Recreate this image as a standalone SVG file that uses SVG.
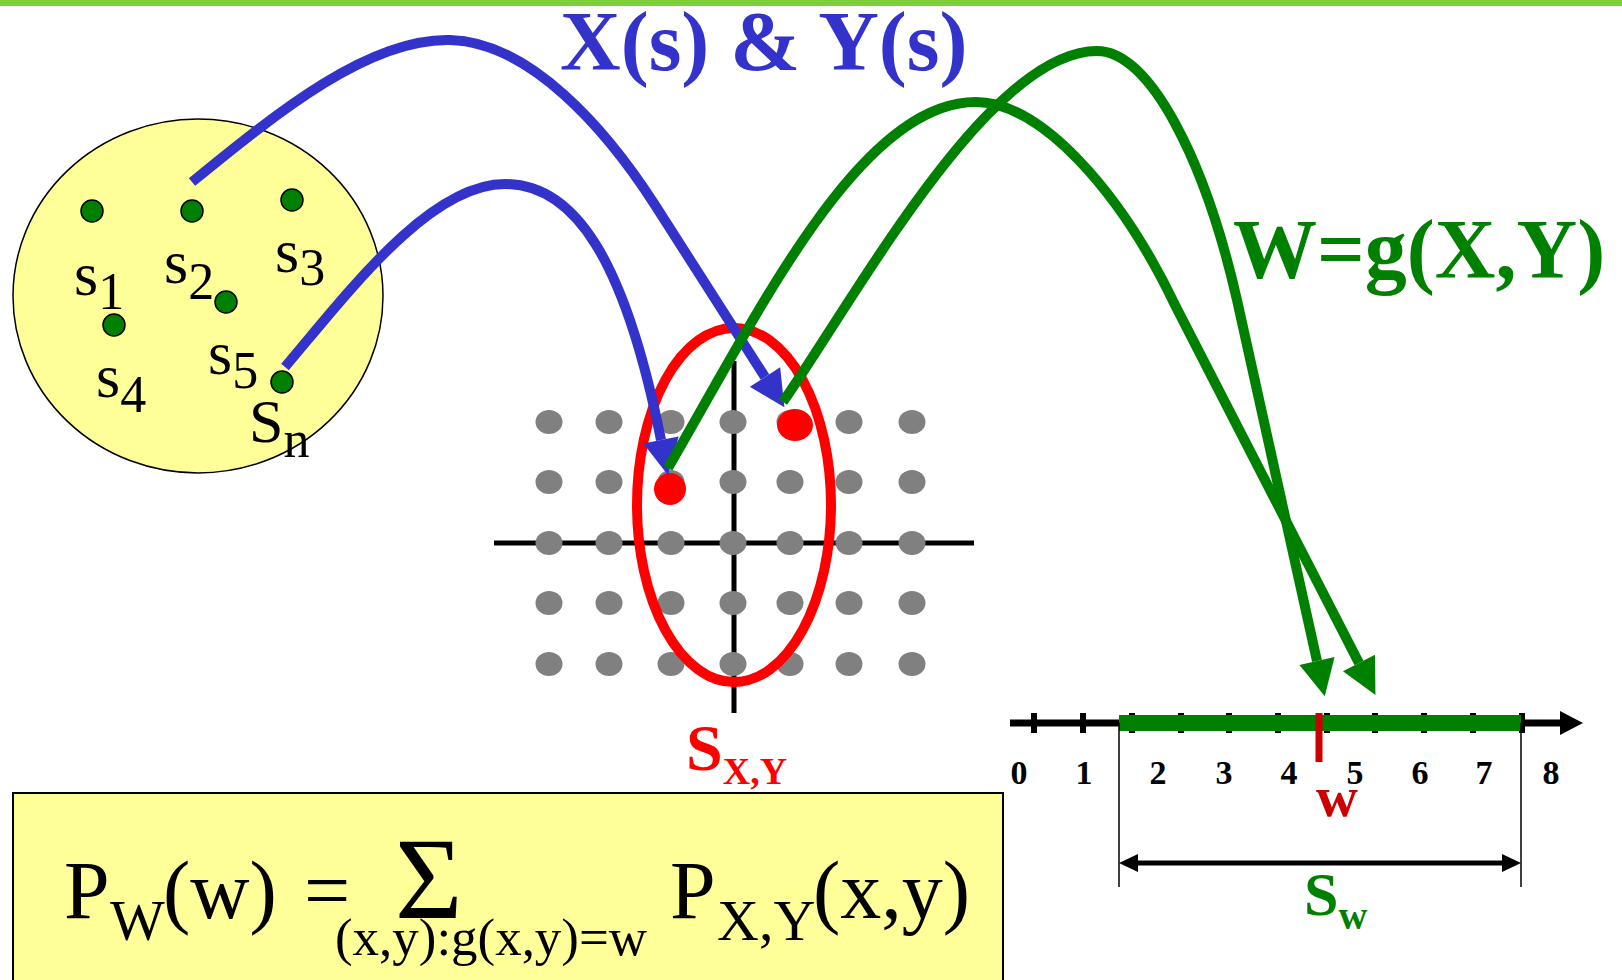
<svg xmlns="http://www.w3.org/2000/svg" width="1622" height="980" viewBox="0 0 1622 980">
<defs>
<style>
text{font-family:"Liberation Serif","Times New Roman",serif}
.b{font-weight:bold}
.lbl{font-size:62px;fill:#000}
.sub{font-size:52px}
.gd{fill:#008000;stroke:#000;stroke-width:1.5}
.gray{fill:#808080}
.blue{fill:none;stroke:#3333cc;stroke-width:10}
.green{fill:none;stroke:#008000;stroke-width:10}
.num{font-size:34px;font-weight:bold;text-anchor:middle;fill:#000}
.tick{fill:#000}
.thin{stroke:#000;stroke-width:1.5}
</style>
<marker id="ab" markerUnits="userSpaceOnUse" markerWidth="40" markerHeight="40" refX="0" refY="18" orient="auto" overflow="visible"><path d="M0,0 L36,18 L0,36 z" fill="#3333cc"/></marker>
<marker id="ag" markerUnits="userSpaceOnUse" markerWidth="40" markerHeight="40" refX="0" refY="18" orient="auto" overflow="visible"><path d="M0,0 L36,18 L0,36 z" fill="#008000"/></marker>
</defs>
<rect width="1622" height="980" fill="#fff"/>
<rect x="0" y="0" width="1622" height="6" fill="#7ed03a"/>

<g id="population">
<ellipse cx="198" cy="296" rx="185" ry="177" fill="#ffff99" stroke="#000" stroke-width="1.5"/>
<circle class="gd" cx="92" cy="211" r="11"/>
<circle class="gd" cx="192" cy="211" r="11"/>
<circle class="gd" cx="292" cy="200" r="11"/>
<circle class="gd" cx="114" cy="325" r="11"/>
<circle class="gd" cx="226" cy="302" r="11"/>
<circle class="gd" cx="282" cy="382" r="11"/>
<text class="lbl" x="74" y="295">s<tspan class="sub" dy="14">1</tspan></text>
<text class="lbl" x="164" y="283">s<tspan class="sub" dy="16">2</tspan></text>
<text class="lbl" x="275" y="272">s<tspan class="sub" dy="13">3</tspan></text>
<text class="lbl" x="96" y="397">s<tspan class="sub" dy="15">4</tspan></text>
<text class="lbl" x="208" y="374">s<tspan class="sub" dy="14">5</tspan></text>
<text class="lbl" x="249" y="442">S<tspan class="sub" dy="15">n</tspan></text>
</g>

<g id="grid">
<line x1="494" y1="543" x2="974" y2="543" stroke="#000" stroke-width="5"/>
<line x1="734" y1="361" x2="734" y2="713" stroke="#000" stroke-width="5"/>
<g class="gray">
<ellipse cx="549" cy="422" rx="13.5" ry="12"/><ellipse cx="609" cy="422" rx="13.5" ry="12"/><ellipse cx="671" cy="422" rx="13.5" ry="12"/><ellipse cx="733" cy="422" rx="13.5" ry="12"/><ellipse cx="790" cy="422" rx="13.5" ry="12"/><ellipse cx="849" cy="422" rx="13.5" ry="12"/><ellipse cx="912" cy="422" rx="13.5" ry="12"/>
<ellipse cx="549" cy="482" rx="13.5" ry="12"/><ellipse cx="609" cy="482" rx="13.5" ry="12"/><ellipse cx="671" cy="482" rx="13.5" ry="12"/><ellipse cx="733" cy="482" rx="13.5" ry="12"/><ellipse cx="790" cy="482" rx="13.5" ry="12"/><ellipse cx="849" cy="482" rx="13.5" ry="12"/><ellipse cx="912" cy="482" rx="13.5" ry="12"/>
<ellipse cx="549" cy="543" rx="13.5" ry="12"/><ellipse cx="609" cy="543" rx="13.5" ry="12"/><ellipse cx="671" cy="543" rx="13.5" ry="12"/><ellipse cx="733" cy="543" rx="13.5" ry="12"/><ellipse cx="790" cy="543" rx="13.5" ry="12"/><ellipse cx="849" cy="543" rx="13.5" ry="12"/><ellipse cx="912" cy="543" rx="13.5" ry="12"/>
<ellipse cx="549" cy="603" rx="13.5" ry="12"/><ellipse cx="609" cy="603" rx="13.5" ry="12"/><ellipse cx="671" cy="603" rx="13.5" ry="12"/><ellipse cx="733" cy="603" rx="13.5" ry="12"/><ellipse cx="790" cy="603" rx="13.5" ry="12"/><ellipse cx="849" cy="603" rx="13.5" ry="12"/><ellipse cx="912" cy="603" rx="13.5" ry="12"/>
<ellipse cx="549" cy="664" rx="13.5" ry="12"/><ellipse cx="609" cy="664" rx="13.5" ry="12"/><ellipse cx="671" cy="664" rx="13.5" ry="12"/><ellipse cx="733" cy="664" rx="13.5" ry="12"/><ellipse cx="790" cy="664" rx="13.5" ry="12"/><ellipse cx="849" cy="664" rx="13.5" ry="12"/><ellipse cx="912" cy="664" rx="13.5" ry="12"/>
</g>
</g>

<g id="sxy">
<ellipse cx="734" cy="505" rx="97" ry="177" fill="none" stroke="#ff0000" stroke-width="10"/>
<ellipse cx="795" cy="425" rx="18" ry="16" fill="#ff0000"/>
<circle cx="670" cy="489" r="16" fill="#ff0000"/>
<text class="b" x="686" y="770" font-size="66" fill="#ff0000">S<tspan dy="14" font-size="38">X,Y</tspan></text>
</g>

<g id="connectors">
<path class="blue" d="M192,182 C280,110 370,38 450,40 C530,42 606,129 655,205 L765,377" marker-end="url(#ab)"/>
<path class="blue" d="M285,367 C350,290 430,184 505,184 C575,184 625,260 661,440" marker-end="url(#ab)"/>
<path class="green" d="M668,468 C760,310 860,102 976,102 C1040,102 1120,190 1175,305 L1359,663" marker-end="url(#ag)"/>
<path class="green" d="M783,402 C860,290 990,51 1097,51 C1150,51 1205,160 1237,300 L1317,661" marker-end="url(#ag)"/>
</g>

<g id="title-xy">
<text class="b" x="560" y="70" font-size="84" fill="#3333cc">X(s) &amp; Y(s)</text>
</g>
<g id="title-w">
<text class="b" x="1233" y="278" font-size="84" fill="#008000">W=g(X,Y)</text>
</g>

<g id="numberline">
<line x1="1010" y1="723" x2="1562" y2="723" stroke="#000" stroke-width="7"/>
<polygon points="1560,711 1583,723 1560,735" fill="#000"/>
<g class="tick">
<rect x="1031" y="713" width="6" height="20"/><rect x="1080" y="713" width="6" height="20"/><rect x="1129" y="713" width="6" height="20"/><rect x="1178" y="713" width="6" height="20"/><rect x="1226" y="713" width="6" height="20"/><rect x="1275" y="713" width="6" height="20"/><rect x="1324" y="713" width="6" height="20"/><rect x="1372" y="713" width="6" height="20"/><rect x="1421" y="713" width="6" height="20"/><rect x="1470" y="713" width="6" height="20"/><rect x="1519" y="713" width="6" height="20"/>
</g>
<rect x="1119" y="715" width="402" height="16" fill="#008000"/>
<rect x="1315.5" y="713" width="7" height="49" fill="#cc0000"/>
<text class="num" x="1019" y="784">0</text>
<text class="num" x="1084" y="784">1</text>
<text class="num" x="1158" y="784">2</text>
<text class="num" x="1224" y="784">3</text>
<text class="num" x="1289" y="784">4</text>
<text class="num" x="1355" y="784">5</text>
<text class="num" x="1420" y="784">6</text>
<text class="num" x="1484" y="784">7</text>
<text class="num" x="1551" y="784">8</text>
<text class="b" x="1337" y="816" font-size="58" fill="#cc0000" text-anchor="middle">w</text>
</g>

<g id="sw">
<line class="thin" x1="1119" y1="723" x2="1119" y2="887"/>
<line class="thin" x1="1521" y1="723" x2="1521" y2="887"/>
<line x1="1136" y1="863" x2="1504" y2="863" stroke="#000" stroke-width="5"/>
<polygon points="1119,863 1138,854 1138,872" fill="#000"/>
<polygon points="1521,863 1502,854 1502,872" fill="#000"/>
<text class="b" x="1304" y="915" font-size="62" fill="#008000">S<tspan dy="14" font-size="40">w</tspan></text>
</g>

<g id="formula">
<rect x="13" y="793" width="990" height="200" fill="#ffff99" stroke="#000" stroke-width="2"/>
<text x="64" y="918" font-size="82">P</text>
<text x="110" y="940" font-size="58">W</text>
<text x="163" y="918" font-size="82">(w)</text>
<text x="304" y="918" font-size="82">=</text>
<text x="395" y="918" font-size="116">Σ</text>
<text x="335" y="955" font-size="52" textLength="312" lengthAdjust="spacingAndGlyphs">(x,y):g(x,y)=w</text>
<text x="670" y="918" font-size="82">P</text>
<text x="717" y="940" font-size="58">X,Y</text>
<text x="813" y="918" font-size="82">(x,y)</text>
</g>
</svg>
